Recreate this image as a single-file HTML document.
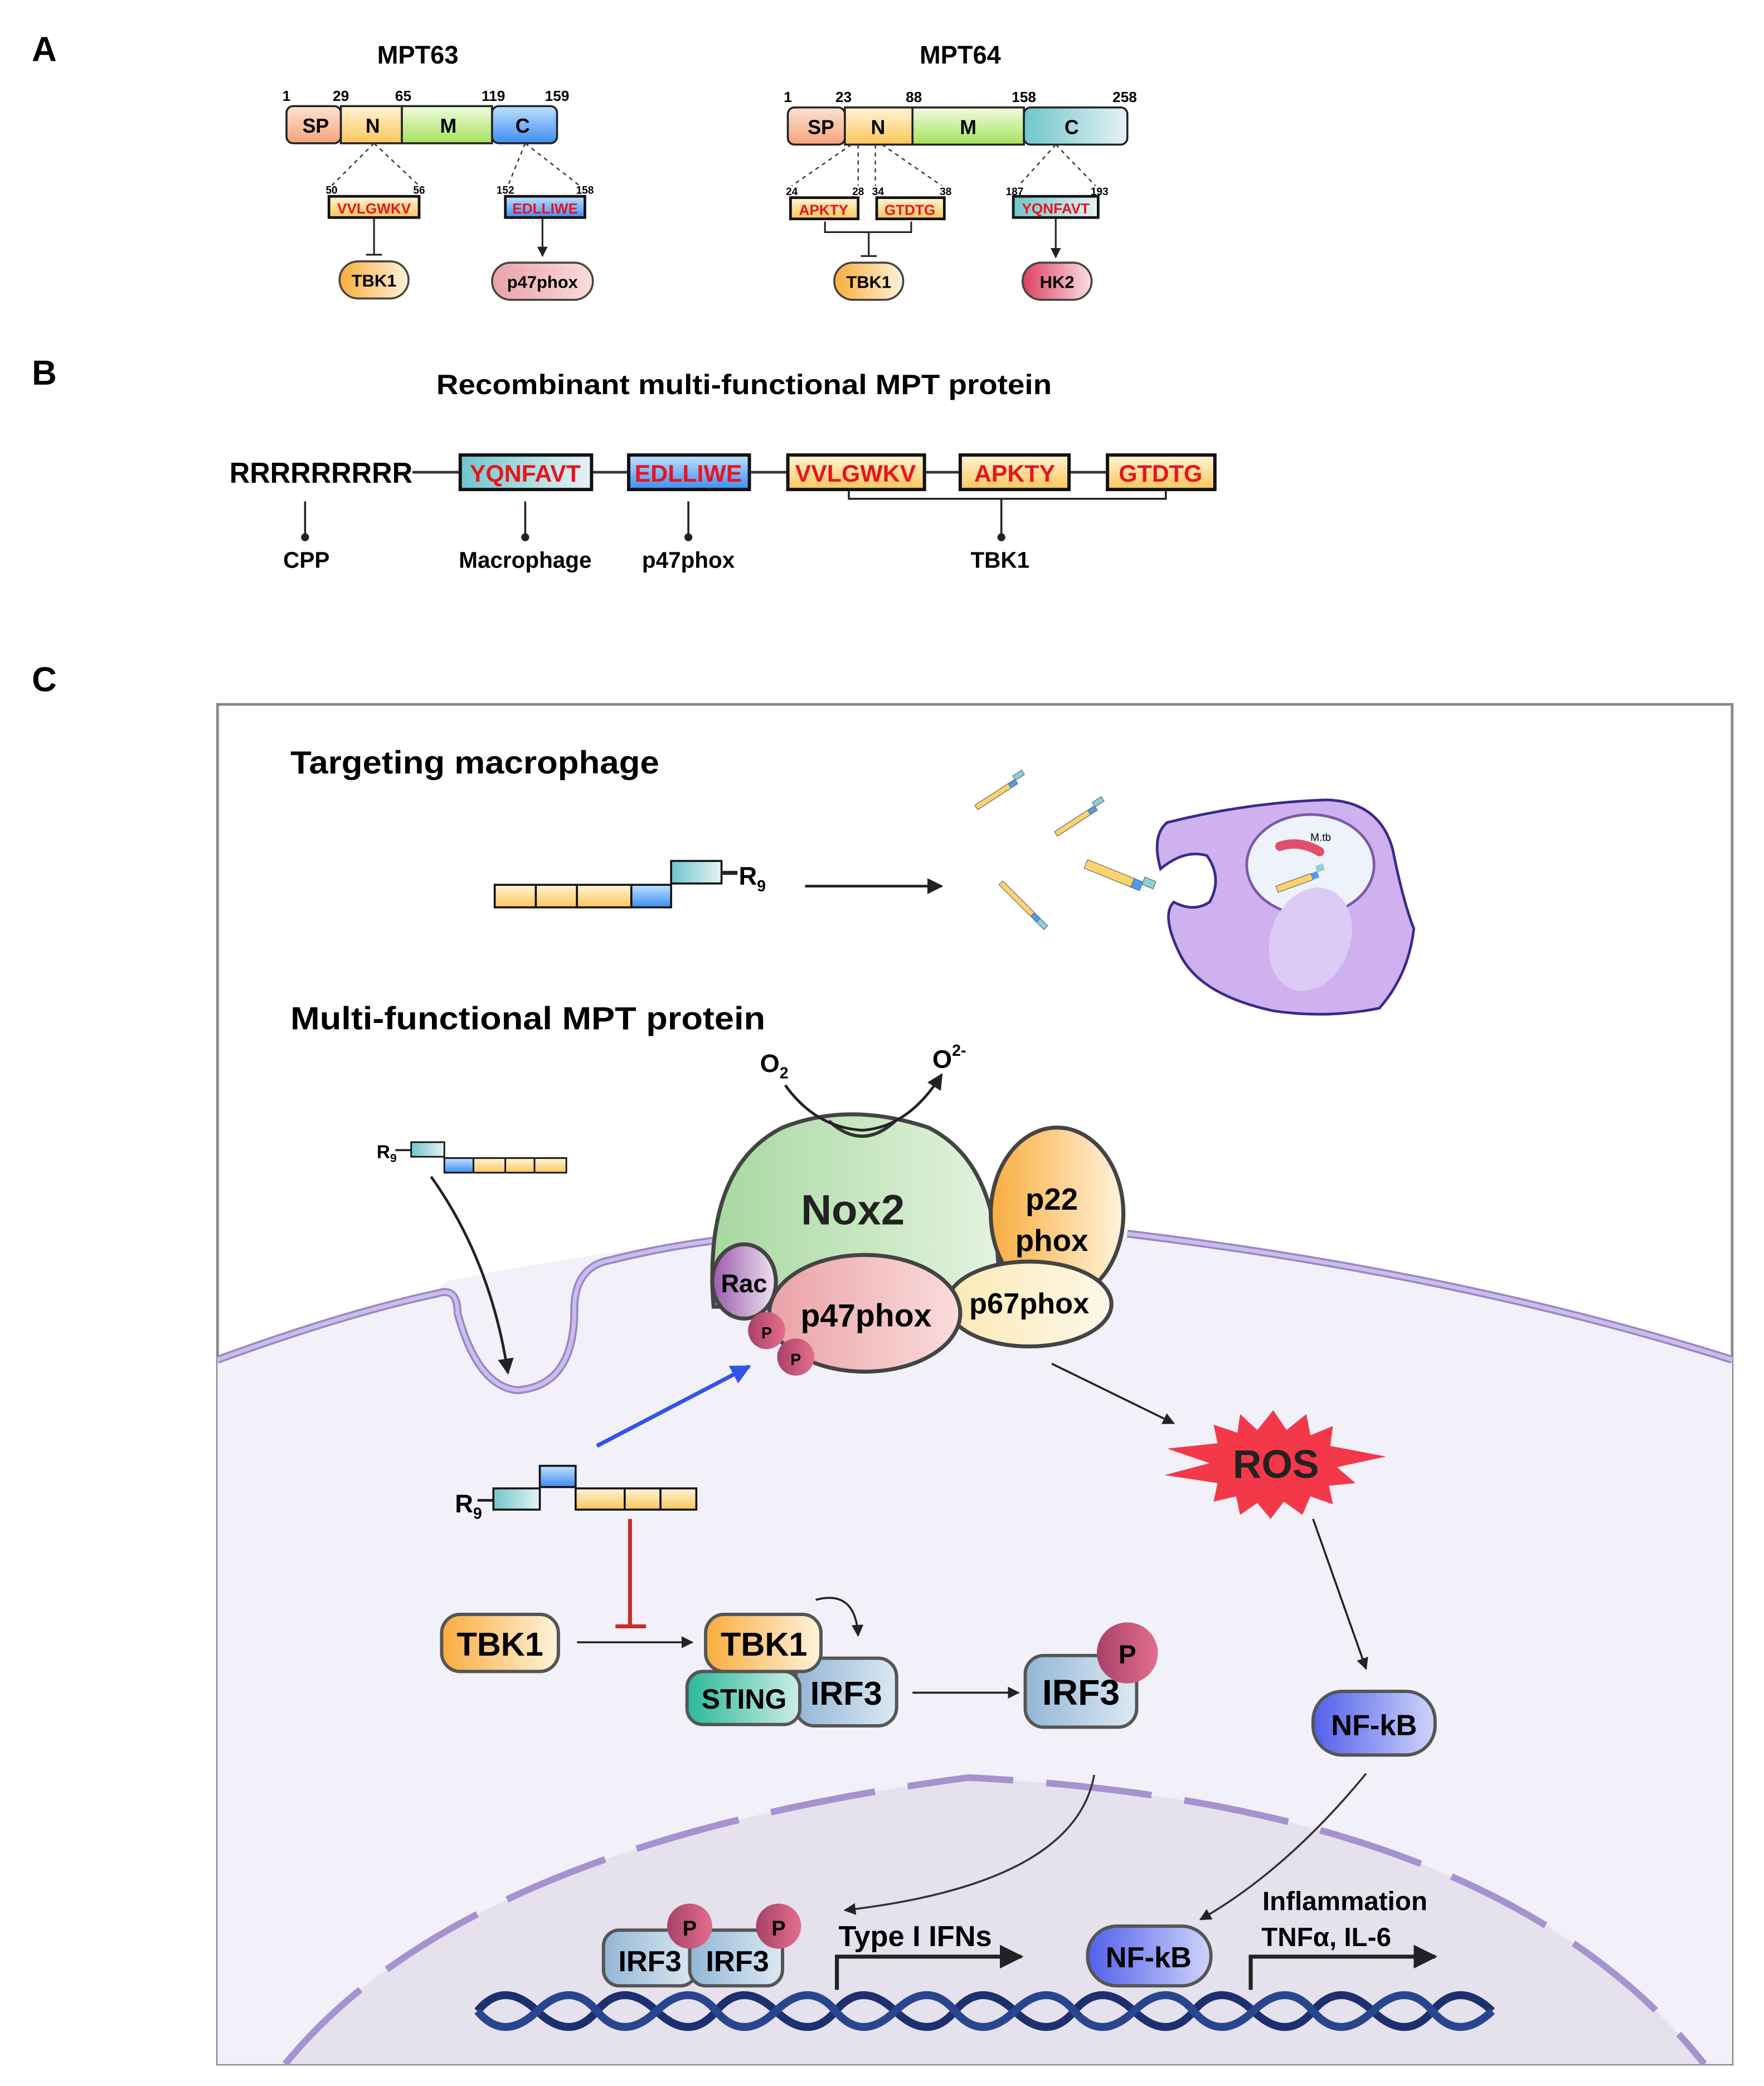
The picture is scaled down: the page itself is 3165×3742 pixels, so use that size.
<!DOCTYPE html>
<html><head><meta charset="utf-8"><style>html,body{margin:0;padding:0;background:#fff}svg{display:block}</style></head>
<body>
<svg width="3165" height="3742" viewBox="0 0 1330 1572.5" xmlns="http://www.w3.org/2000/svg" font-family="Liberation Sans, sans-serif" font-weight="bold">
<defs>
<linearGradient id="gsp" x1="0" y1="0" x2="0" y2="1"><stop offset="0" stop-color="#fde3d3"/><stop offset="1" stop-color="#f3a37a"/></linearGradient>
<linearGradient id="gy" x1="0" y1="0" x2="0" y2="1"><stop offset="0" stop-color="#fff4d8"/><stop offset="1" stop-color="#fbc65a"/></linearGradient>
<linearGradient id="gg" x1="0" y1="0" x2="0" y2="1"><stop offset="0" stop-color="#f1fbe0"/><stop offset="1" stop-color="#a5e25a"/></linearGradient>
<linearGradient id="gb" x1="0" y1="0" x2="0" y2="1"><stop offset="0" stop-color="#bfe1ff"/><stop offset="1" stop-color="#3d8df2"/></linearGradient>
<linearGradient id="gt" x1="0" y1="0" x2="1" y2="0"><stop offset="0" stop-color="#6fc6cc"/><stop offset="1" stop-color="#e6f2f5"/></linearGradient>
<linearGradient id="gor" x1="0" y1="0" x2="1" y2="0"><stop offset="0" stop-color="#f9ad3e"/><stop offset="1" stop-color="#fff3dc"/></linearGradient>
<linearGradient id="gpk" x1="0" y1="0" x2="1" y2="0"><stop offset="0" stop-color="#e9a2a6"/><stop offset="1" stop-color="#fbdcdc"/></linearGradient>
<linearGradient id="ghk" x1="0" y1="0" x2="1" y2="0"><stop offset="0" stop-color="#dc4060"/><stop offset="1" stop-color="#fbdfe4"/></linearGradient>
<linearGradient id="gnox" x1="0" y1="0" x2="1" y2="0"><stop offset="0" stop-color="#a7d8a0"/><stop offset="1" stop-color="#e4f3df"/></linearGradient>
<linearGradient id="gp67" x1="0" y1="0" x2="1" y2="0"><stop offset="0" stop-color="#fbe9b3"/><stop offset="1" stop-color="#fdf7e8"/></linearGradient>
<linearGradient id="grac" x1="0" y1="0" x2="1" y2="0"><stop offset="0" stop-color="#9a5aaa"/><stop offset="1" stop-color="#efe3f3"/></linearGradient>
<linearGradient id="gP" x1="0" y1="0" x2="1" y2="0"><stop offset="0" stop-color="#a84268"/><stop offset="1" stop-color="#e36d8d"/></linearGradient>
<linearGradient id="girf" x1="0" y1="0" x2="1" y2="0"><stop offset="0" stop-color="#93b6d6"/><stop offset="1" stop-color="#dce9f3"/></linearGradient>
<linearGradient id="gsting" x1="0" y1="0" x2="1" y2="0"><stop offset="0" stop-color="#2bb89a"/><stop offset="1" stop-color="#cdeee5"/></linearGradient>
<linearGradient id="gnf" x1="0" y1="0" x2="1" y2="0"><stop offset="0" stop-color="#5160ea"/><stop offset="1" stop-color="#cfd4fb"/></linearGradient>
<marker id="ah" viewBox="0 0 10 10" refX="9" refY="5" markerWidth="6" markerHeight="6" orient="auto"><path d="M0,0 L10,5 L0,10 z" fill="#222"/></marker>
<marker id="ahb" viewBox="0 0 10 10" refX="9" refY="5" markerWidth="5" markerHeight="5" orient="auto"><path d="M0,0 L10,5 L0,10 z" fill="#2f55e8"/></marker>
</defs>

<text x="24" y="46" font-size="26">A</text>
<text x="24" y="290" font-size="26">B</text>
<text x="24" y="521" font-size="26">C</text>

<!-- Panel A MPT63 -->
<text x="315" y="48" font-size="19" text-anchor="middle">MPT63</text>
<g font-size="11" text-anchor="middle"><text x="216" y="76">1</text><text x="257" y="76">29</text><text x="304" y="76">65</text><text x="372" y="76">119</text><text x="420" y="76">159</text></g>
<g stroke="#222" stroke-width="1.5">
<rect x="216" y="80" width="41" height="28" rx="5" fill="url(#gsp)"/>
<rect x="257" y="80" width="46" height="28" fill="url(#gy)"/>
<rect x="303" y="80" width="68" height="28" fill="url(#gg)"/>
<rect x="371" y="80" width="49" height="28" rx="5" fill="url(#gb)"/>
</g>
<g font-size="15" text-anchor="middle"><text x="238" y="100">SP</text><text x="281" y="100">N</text><text x="338" y="100">M</text><text x="394" y="100">C</text></g>
<g stroke="#333" stroke-dasharray="3,3" fill="none"><path d="M282,108 L250,140 M282,108 L316,140 M396,108 L383,140 M396,108 L437,140"/></g>
<g font-size="8" text-anchor="middle"><text x="250" y="146">50</text><text x="316" y="146">56</text><text x="381" y="146">152</text><text x="441" y="146">158</text></g>
<rect x="248" y="148" width="68" height="16" fill="url(#gy)" stroke="#111" stroke-width="2"/>
<text x="282" y="161" font-size="11" fill="#e8141c" text-anchor="middle">VVLGWKV</text>
<rect x="381" y="148" width="60" height="16" fill="url(#gb)" stroke="#111" stroke-width="2"/>
<text x="411" y="161" font-size="11" fill="#e8141c" text-anchor="middle">EDLLIWE</text>
<path d="M282,164 V192 M276,192 H288" stroke="#222" stroke-width="1.3"/>
<path d="M409,164 V193" stroke="#222" stroke-width="1.3" marker-end="url(#ah)"/>
<rect x="256" y="197" width="52" height="28" rx="14" fill="url(#gor)" stroke="#444" stroke-width="1.5"/>
<text x="282" y="216" font-size="13" text-anchor="middle">TBK1</text>
<rect x="371" y="198" width="76" height="28" rx="14" fill="url(#gpk)" stroke="#444" stroke-width="1.5"/>
<text x="409" y="217" font-size="13" text-anchor="middle">p47phox</text>

<!-- MPT64 -->
<text x="724" y="48" font-size="19" text-anchor="middle">MPT64</text>
<g font-size="11" text-anchor="middle"><text x="594" y="77">1</text><text x="636" y="77">23</text><text x="689" y="77">88</text><text x="772" y="77">158</text><text x="848" y="77">258</text></g>
<g stroke="#222" stroke-width="1.5">
<rect x="594" y="81" width="43" height="28" rx="5" fill="url(#gsp)"/>
<rect x="637" y="81" width="51" height="28" fill="url(#gy)"/>
<rect x="688" y="81" width="84" height="28" fill="url(#gg)"/>
<rect x="772" y="81" width="78" height="28" rx="5" fill="url(#gt)"/>
</g>
<g font-size="15" text-anchor="middle"><text x="619" y="101">SP</text><text x="662" y="101">N</text><text x="730" y="101">M</text><text x="808" y="101">C</text></g>
<g stroke="#333" stroke-dasharray="3,3" fill="none"><path d="M642,109 L597,140 M647,109 L647,140 M660,109 L660,140 M665,109 L710,140 M796,109 L768,140 M796,109 L826,140"/></g>
<g font-size="8" text-anchor="middle"><text x="597" y="147">24</text><text x="647" y="147">28</text><text x="662" y="147">34</text><text x="713" y="147">38</text><text x="765" y="147">187</text><text x="829" y="147">193</text></g>
<rect x="596" y="149" width="51" height="16" fill="url(#gy)" stroke="#111" stroke-width="2"/>
<text x="621" y="162" font-size="11" fill="#e8141c" text-anchor="middle">APKTY</text>
<rect x="661" y="149" width="51" height="16" fill="url(#gy)" stroke="#111" stroke-width="2"/>
<text x="686" y="162" font-size="11" fill="#e8141c" text-anchor="middle">GTDTG</text>
<rect x="764" y="148" width="64" height="16" fill="url(#gt)" stroke="#111" stroke-width="2"/>
<text x="796" y="161" font-size="11" fill="#e8141c" text-anchor="middle">YQNFAVT</text>
<path d="M622,167 V175 H687 V167 M655,175 V193 M649,193 H661" stroke="#222" stroke-width="1.3" fill="none"/>
<path d="M796,164 V194" stroke="#222" stroke-width="1.3" marker-end="url(#ah)"/>
<rect x="629" y="198" width="52" height="28" rx="14" fill="url(#gor)" stroke="#444" stroke-width="1.5"/>
<text x="655" y="217" font-size="13" text-anchor="middle">TBK1</text>
<rect x="771" y="198" width="52" height="28" rx="14" fill="url(#ghk)" stroke="#444" stroke-width="1.5"/>
<text x="797" y="217" font-size="13" text-anchor="middle">HK2</text>

<!-- Panel B -->
<text x="329" y="297" font-size="21" textLength="464" lengthAdjust="spacingAndGlyphs">Recombinant multi-functional MPT protein</text>
<text x="173" y="364" font-size="22" textLength="138" lengthAdjust="spacingAndGlyphs">RRRRRRRRR</text>
<path d="M311,356 H347 M446,356 H474 M565,356 H594 M697,356 H724 M806,356 H835" stroke="#333" stroke-width="2"/>
<g stroke="#111" stroke-width="2.5">
<rect x="347" y="343" width="99" height="26" fill="url(#gt)"/>
<rect x="474" y="343" width="91" height="26" fill="url(#gb)"/>
<rect x="594" y="343" width="103" height="26" fill="url(#gy)"/>
<rect x="724" y="343" width="82" height="26" fill="url(#gy)"/>
<rect x="835" y="343" width="81" height="26" fill="url(#gy)"/>
</g>
<g font-size="18" fill="#e8141c" text-anchor="middle"><text x="396" y="363">YQNFAVT</text><text x="519" y="363">EDLLIWE</text><text x="645" y="363">VVLGWKV</text><text x="765" y="363">APKTY</text><text x="875" y="363">GTDTG</text></g>
<path d="M230,378 V404 M396,378 V404 M519,378 V404 M640,370 V376 H879 V370 M755,376 V404" stroke="#222" stroke-width="1.5" fill="none"/>
<g fill="#222"><circle cx="230" cy="405" r="3"/><circle cx="396" cy="405" r="3"/><circle cx="519" cy="405" r="3"/><circle cx="755" cy="405" r="3"/></g>
<g font-size="17" text-anchor="middle"><text x="231" y="428">CPP</text><text x="396" y="428">Macrophage</text><text x="519" y="428">p47phox</text><text x="754" y="428">TBK1</text></g>

<!-- Panel C box -->
<rect x="164" y="531" width="1142" height="1025" fill="#fff" stroke="#888" stroke-width="2"/>
<text x="219" y="583" font-size="24" textLength="278" lengthAdjust="spacingAndGlyphs">Targeting macrophage</text>

<g stroke="#111" stroke-width="1.5">
<rect x="373" y="667" width="31" height="17" fill="url(#gy)"/><rect x="404" y="667" width="31" height="17" fill="url(#gy)"/><rect x="435" y="667" width="41" height="17" fill="url(#gy)"/>
<rect x="476" y="667" width="30" height="17" fill="url(#gb)"/>
<rect x="506" y="649" width="38" height="17" fill="url(#gt)"/>
</g>
<path d="M544,658 H556" stroke="#222" stroke-width="3"/>
<text x="557" y="667" font-size="19">R<tspan font-size="12" dy="5">9</tspan></text>
<path d="M607,668 H710" stroke="#222" stroke-width="2" marker-end="url(#ah)"/>

<g stroke="#666" stroke-width="0.5">
<g transform="translate(735,607) rotate(-33)"><rect x="0" y="0" width="30" height="4" fill="#fbd36d"/><rect x="30" y="0" width="6" height="4" fill="#4d9cf0"/><rect x="36" y="-3" width="8" height="4" fill="#8fd0d5"/></g>
<g transform="translate(795,627) rotate(-33)"><rect x="0" y="0" width="30" height="4" fill="#fbd36d"/><rect x="30" y="0" width="6" height="4" fill="#4d9cf0"/><rect x="36" y="-3" width="8" height="4" fill="#8fd0d5"/></g>
<g transform="translate(820,648) rotate(22)"><rect x="0" y="0" width="38" height="7" fill="#fbd36d"/><rect x="38" y="0" width="7" height="7" fill="#4d9cf0"/><rect x="45" y="-4" width="9" height="6" fill="#8fd0d5"/></g>
<g transform="translate(756,664) rotate(45)"><rect x="0" y="0" width="34" height="4" fill="#fbd36d"/><rect x="34" y="0" width="6" height="4" fill="#4d9cf0"/><rect x="40" y="0" width="8" height="4" fill="#8fd0d5"/></g>
</g>
<path d="M880,620 Q940,605 1000,603 Q1040,604 1050,640 Q1058,680 1066,700 Q1062,735 1040,760 Q1000,768 960,762 Q905,750 890,720 Q875,690 885,680 Q900,688 912,680 Q922,662 910,645 Q893,640 875,655 Q868,630 880,620 Z" fill="#cfb1ef" stroke="#3a2a8a" stroke-width="2"/>
<ellipse cx="988" cy="652" rx="48" ry="38" fill="#eef2fb" stroke="#7a5aa8" stroke-width="2"/>
<ellipse cx="988" cy="708" rx="30" ry="40" transform="rotate(20 988 708)" fill="#dccbf5"/>
<path d="M965,638 Q980,633 995,642" stroke="#e0506a" stroke-width="7" fill="none" stroke-linecap="round"/>
<text x="988" y="634" font-size="8" font-weight="normal">M.tb</text>
<g transform="translate(962,668) rotate(-20)"><rect x="0" y="0" width="28" height="5" fill="#fbd36d" stroke="#666" stroke-width="0.5"/><rect x="28" y="0" width="5" height="5" fill="#4d9cf0"/><rect x="33" y="-4" width="6" height="5" fill="#8fd0d5"/></g>

<text x="219" y="776" font-size="24" textLength="358" lengthAdjust="spacingAndGlyphs">Multi-functional MPT protein</text>

<!-- cell -->
<path d="M164,1025 Q300,980 420,960 Q440,960 430,1000 Q410,1050 385,1048 Q355,1040 330,990 Q320,975 340,965 Q440,945 540,935 L850,928 Q1100,960 1306,1025 L1306,1556 L164,1556 Z" fill="#f2f0f9"/>
<path d="M164,1025 Q260,990 330,975 Q345,970 345,990 Q360,1045 390,1048 Q432,1045 433,990 Q432,955 460,950 Q500,940 540,935 M850,930 Q1100,960 1306,1025" fill="none" stroke="#9a86c8" stroke-width="6"/>
<path d="M164,1025 Q260,990 330,975 Q345,970 345,990 Q360,1045 390,1048 Q432,1045 433,990 Q432,955 460,950 Q500,940 540,935 M850,930 Q1100,960 1306,1025" fill="none" stroke="#cbbdea" stroke-width="3"/>
<path d="M215,1556 Q350,1390 730,1340 Q1130,1360 1285,1556 Z" fill="#e5e2ee"/>
<path d="M215,1556 Q350,1390 730,1340 Q1130,1360 1285,1556" fill="none" stroke="#a592cf" stroke-width="5" stroke-dasharray="80,25"/>

<!-- Nox2 complex -->
<path d="M538,985 Q530,880 590,850 Q640,830 700,850 Q760,880 752,990 Z" fill="url(#gnox)" stroke="#444" stroke-width="3"/>
<path d="M625,845 Q650,868 675,845" fill="none" stroke="#333" stroke-width="2.5"/>
<ellipse cx="797" cy="915" rx="50" ry="65" fill="url(#gor)" stroke="#444" stroke-width="3"/>
<ellipse cx="776" cy="983" rx="62" ry="32" fill="url(#gp67)" stroke="#444" stroke-width="3"/>
<ellipse cx="652" cy="990" rx="72" ry="44" fill="url(#gpk)" stroke="#444" stroke-width="3"/>
<ellipse cx="561" cy="966" rx="24" ry="28" fill="url(#grac)" stroke="#444" stroke-width="3"/>
<circle cx="578" cy="1003" r="14" fill="url(#gP)"/><circle cx="600" cy="1023" r="14" fill="url(#gP)"/>
<text x="643" y="923" font-size="32" text-anchor="middle" fill="#222">Nox2</text>
<text x="793" y="912" font-size="23" text-anchor="middle">p22</text><text x="793" y="943" font-size="23" text-anchor="middle">phox</text>
<text x="776" y="990" font-size="22" text-anchor="middle">p67phox</text>
<text x="653" y="1000" font-size="24" text-anchor="middle">p47phox</text>
<text x="561" y="974" font-size="19" text-anchor="middle">Rac</text>
<text x="578" y="1009" font-size="12" text-anchor="middle">P</text><text x="600" y="1029" font-size="12" text-anchor="middle">P</text>
<text x="573" y="808" font-size="19">O<tspan font-size="12" dy="5">2</tspan></text>
<text x="703" y="805" font-size="19">O<tspan font-size="12" dy="-9">2-</tspan></text>
<path d="M592,818 Q615,850 650,852 Q685,850 710,810" fill="none" stroke="#222" stroke-width="2" marker-end="url(#ah)"/>

<text x="284" y="873" font-size="14">R<tspan font-size="9" dy="3">9</tspan></text>
<path d="M298,867 H310" stroke="#222" stroke-width="1.5"/>
<g stroke="#111" stroke-width="1.2">
<rect x="310" y="861" width="25" height="11" fill="url(#gt)"/><rect x="335" y="873" width="22" height="11" fill="url(#gb)"/>
<rect x="357" y="873" width="24" height="11" fill="url(#gy)"/><rect x="381" y="873" width="22" height="11" fill="url(#gy)"/><rect x="403" y="873" width="24" height="11" fill="url(#gy)"/>
</g>
<path d="M325,887 Q370,950 383,1035" fill="none" stroke="#222" stroke-width="2" marker-end="url(#ah)"/>

<text x="343" y="1140" font-size="19">R<tspan font-size="12" dy="5">9</tspan></text>
<path d="M360,1131 H372" stroke="#222" stroke-width="2"/>
<g stroke="#111" stroke-width="1.5">
<rect x="372" y="1122" width="35" height="16" fill="url(#gt)"/><rect x="407" y="1105" width="27" height="16" fill="url(#gb)"/>
<rect x="434" y="1122" width="37" height="16" fill="url(#gy)"/><rect x="471" y="1122" width="27" height="16" fill="url(#gy)"/><rect x="498" y="1122" width="27" height="16" fill="url(#gy)"/>
</g>
<path d="M450,1090 L565,1030" stroke="#2f55e8" stroke-width="3" marker-end="url(#ahb)"/>
<path d="M475,1145 V1226 M464,1226 H487" stroke="#c23030" stroke-width="3"/>

<rect x="333" y="1217" width="88" height="43" rx="14" fill="url(#gor)" stroke="#555" stroke-width="2.5"/>
<text x="377" y="1248" font-size="25" text-anchor="middle">TBK1</text>
<path d="M435,1238 H522" stroke="#222" stroke-width="1.5" marker-end="url(#ah)"/>
<rect x="600" y="1250" width="76" height="51" rx="14" fill="url(#girf)" stroke="#555" stroke-width="2.5"/>
<rect x="518" y="1260" width="85" height="40" rx="12" fill="url(#gsting)" stroke="#555" stroke-width="2.5"/>
<rect x="532" y="1217" width="87" height="43" rx="14" fill="url(#gor)" stroke="#555" stroke-width="2.5"/>
<text x="576" y="1248" font-size="25" text-anchor="middle">TBK1</text>
<text x="561" y="1288" font-size="21" text-anchor="middle">STING</text>
<text x="638" y="1285" font-size="25" text-anchor="middle">IRF3</text>
<path d="M615,1206 Q645,1198 647,1233" fill="none" stroke="#222" stroke-width="1.5" marker-end="url(#ah)"/>
<path d="M688,1276 H768" stroke="#222" stroke-width="1.5" marker-end="url(#ah)"/>
<rect x="773" y="1248" width="84" height="54" rx="14" fill="url(#girf)" stroke="#555" stroke-width="2.5"/>
<text x="815" y="1285" font-size="27" text-anchor="middle">IRF3</text>
<circle cx="850" cy="1246" r="23" fill="url(#gP)"/>
<text x="850" y="1254" font-size="20" text-anchor="middle">P</text>

<polygon fill="#f3384a" points="960,1063 970,1078 985,1066 988,1082 1005,1075 1003,1090 1045,1098 1008,1106 1022,1118 1002,1120 1005,1134 988,1128 982,1142 968,1132 958,1145 948,1133 935,1142 932,1128 915,1132 918,1118 878,1112 912,1103 880,1092 918,1088 915,1074 933,1080 935,1066 948,1078"/>
<text x="962" y="1114" font-size="30" text-anchor="middle" fill="#222">ROS</text>
<path d="M793,1028 L885,1073" stroke="#222" stroke-width="1.5" marker-end="url(#ah)"/>
<path d="M990,1145 L1030,1258" stroke="#222" stroke-width="1.5" marker-end="url(#ah)"/>
<rect x="990" y="1275" width="92" height="48" rx="22" fill="url(#gnf)" stroke="#555" stroke-width="2.5"/>
<text x="1036" y="1308" font-size="22" text-anchor="middle">NF-kB</text>
<path d="M1030,1337 Q970,1410 905,1447" fill="none" stroke="#333" stroke-width="1.5" marker-end="url(#ah)"/>
<path d="M825,1338 Q810,1420 637,1440" fill="none" stroke="#333" stroke-width="1.5" marker-end="url(#ah)"/>

<path d="M360,1516 Q380,1492 405,1516 T450,1516 T495,1516 T540,1516 T585,1516 T630,1516 T675,1516 T720,1516 T765,1516 T810,1516 T855,1516 T900,1516 T945,1516 T990,1516 T1035,1516 T1080,1516 T1125,1516" fill="none" stroke="#1d2f6e" stroke-width="6"/>
<path d="M360,1516 Q380,1540 405,1516 T450,1516 T495,1516 T540,1516 T585,1516 T630,1516 T675,1516 T720,1516 T765,1516 T810,1516 T855,1516 T900,1516 T945,1516 T990,1516 T1035,1516 T1080,1516 T1125,1516" fill="none" stroke="#2a4590" stroke-width="6"/>
<rect x="455" y="1455" width="70" height="42" rx="12" fill="url(#girf)" stroke="#555" stroke-width="2.5"/>
<rect x="520" y="1455" width="70" height="42" rx="12" fill="url(#girf)" stroke="#555" stroke-width="2.5"/>
<text x="490" y="1486" font-size="22" text-anchor="middle">IRF3</text>
<text x="556" y="1486" font-size="22" text-anchor="middle">IRF3</text>
<circle cx="520" cy="1452" r="17" fill="url(#gP)"/><circle cx="587" cy="1452" r="17" fill="url(#gP)"/>
<text x="520" y="1459" font-size="16" text-anchor="middle">P</text><text x="587" y="1459" font-size="16" text-anchor="middle">P</text>
<text x="690" y="1467" font-size="22" text-anchor="middle">Type I IFNs</text>
<path d="M631,1500 V1475 H770" fill="none" stroke="#222" stroke-width="3" marker-end="url(#ah)"/>
<rect x="820" y="1452" width="93" height="45" rx="22" fill="url(#gnf)" stroke="#555" stroke-width="2.5"/>
<text x="866" y="1483" font-size="22" text-anchor="middle">NF-kB</text>
<text x="1014" y="1440" font-size="20" text-anchor="middle">Inflammation</text>
<text x="1000" y="1467" font-size="20" text-anchor="middle">TNFα, IL-6</text>
<path d="M943,1500 V1475 H1082" fill="none" stroke="#222" stroke-width="3" marker-end="url(#ah)"/>
</svg>
</body></html>
